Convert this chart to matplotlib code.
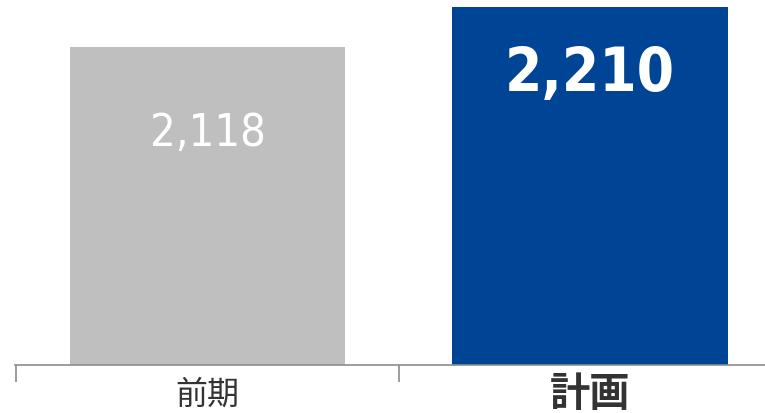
import matplotlib
matplotlib.use("Agg")
import matplotlib.pyplot as plt

# Data
categories = ["前期", "計画"]
values = [2118, 2210]
bar_colors = ["#BFBFBF", "#004595"]

plt.rcParams['font.family'] = ['DejaVu Sans', 'Noto Sans CJK JP']

fig = plt.figure(figsize=(7.65, 4.14), dpi=100)
ax = fig.add_axes([15 / 765, 48 / 414, 750 / 765, 366 / 414])

x = list(range(len(categories)))
bars = ax.bar(x, values, width=0.72, color=bar_colors, zorder=2)

# value labels inside bars
ax.annotate(f"{values[0]:,}", (x[0], values[0]), xytext=(0, -62), textcoords="offset points",
            ha="center", va="center", color="white", fontsize=32.5, fontstretch="condensed")
ax.annotate(f"{values[1]:,}", (x[1], values[1]), xytext=(0, -48), textcoords="offset points",
            ha="center", va="center", color="white", fontsize=43, fontweight="bold",
            fontstretch="condensed")

for side in ["left", "right", "top"]:
    ax.spines[side].set_visible(False)
ax.spines["bottom"].set_color("#8C8C8C")
ax.spines["bottom"].set_linewidth(1.2)
ax.set_yticks([])

ax.set_xticks(x)
ax.set_xticklabels(categories, family=['Noto Sans CJK JP'], va="center")
ax.tick_params(axis="x", which="major", length=0, colors="#333333", pad=20.5)
ax.set_xticks([-0.5, 0.5], minor=True)
ax.tick_params(axis="x", which="minor", length=12, width=1.2, color="#8C8C8C")

lbls = ax.get_xticklabels()
lbls[0].set_fontsize(23)
lbls[1].set_fontsize(29)
lbls[1].set_fontweight("bold")

ax.set_xlim(-0.503, 1.457)
ax.set_ylim(1386, 2228)

fig.savefig("out.png", dpi=100)
